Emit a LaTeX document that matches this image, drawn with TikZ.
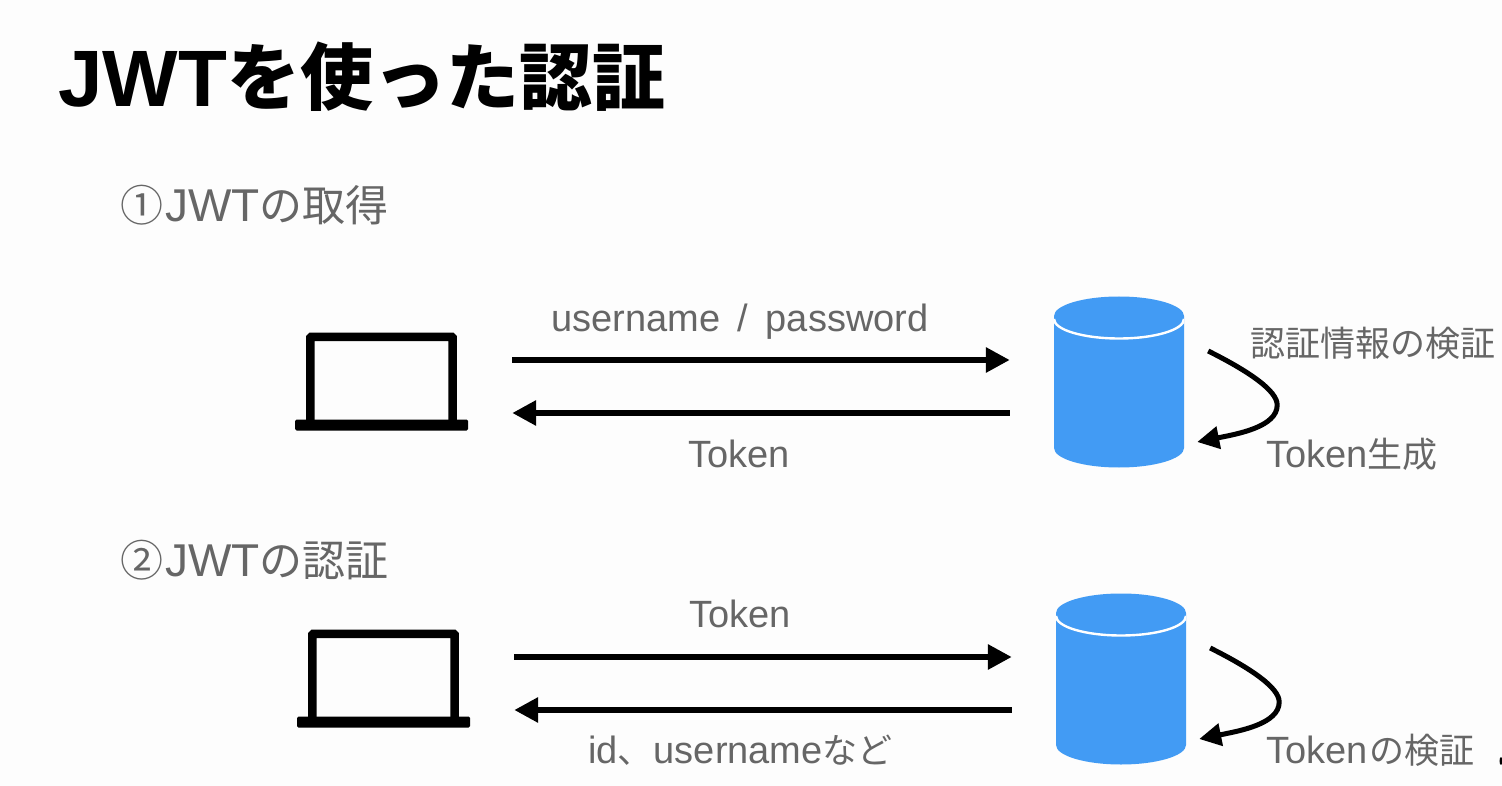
\documentclass[tikz,border=0pt]{standalone}
\usepackage{fontspec}
\usetikzlibrary{arrows.meta}
\setmainfont{Liberation Sans}
\newfontfamily\cjk{Noto Sans CJK JP}
\definecolor{txtgrey}{HTML}{666666}
\definecolor{dbblue}{HTML}{429BF4}
\definecolor{bgwhite}{HTML}{FDFDFD}
\newcommand{\fsz}[1]{\fontsize{#1pt}{#1pt}\selectfont}
\newcommand{\jl}[1]{{\cjk\fsz{35}#1}}
\newcommand{\jh}[1]{{\cjk\fsz{43}#1}}
\newcommand{\jt}[1]{{\cjk\fsz{73}\raisebox{2pt}{#1}}}
\tikzset{
  x=1pt,y=-1pt,
  label text/.style={anchor=base west,inner sep=0pt,text=txtgrey,font=\fsz{38}},
  head text/.style={anchor=base west,inner sep=0pt,text=txtgrey,font=\fsz{46}},
  title text/.style={anchor=base west,inner sep=0pt,text=black,font=\fsz{80}\bfseries},
  laptop box/.style={inner sep=0pt,minimum width=173pt,minimum height=98pt,
    path picture={
      \fill[black,rounded corners=1.5pt] ([shift={(0,-11)}]path picture bounding box.south west) rectangle (path picture bounding box.south east);
      \draw[black,line width=8.5pt,rounded corners=1pt] (-71.2,45) -- (-71.2,-44.7) -- (71.2,-44.7) -- (71.2,45);
    }},
  db box/.style={inner sep=0pt,minimum width=130pt,minimum height=171pt,
    path picture={
      \fill[dbblue] (-65,-66) -- (-65,66) arc[start angle=180,end angle=0,x radius=65,y radius=19.5] -- (65,-66) arc[start angle=0,end angle=-180,x radius=65,y radius=19.5] -- cycle;
      \draw[white,line width=2.4pt] (-65,-63) arc[start angle=180,end angle=0,x radius=65,y radius=19.5];
    }},
  flow/.style={line width=6pt,-{Triangle[length=24pt,width=24pt]}},
  self/.style={line width=5pt,-{Triangle[length=22pt,width=22pt]}}
}
\begin{document}
\begin{tikzpicture}
\useasboundingbox (0,0) rectangle (1502,786);
\fill[bgwhite] (0,0) rectangle (1502,786);

\node[title text] (title) at (58,107) {JWT\jt{を使った認証}};
\node[head text] (h1) at (120,222) {\jh{①}\hspace{2pt}JWT\jh{の取得}};
\node[head text] (h2) at (120,576) {\jh{②}\hspace{2pt}JWT\jh{の認証}};

\node[laptop box] (pc1) at (381.5,381.5) {};
\node[laptop box] (pc2) at (383.5,678.5) {};
\node[db box] (db1) at (1119,382) {};
\node[db box] (db2) at (1121,679) {};

\draw[flow] ([shift={(44,-21.5)}]pc1.east) -- ([shift={(-44,-22)}]db1.west);
\draw[flow] ([shift={(-44,31)}]db1.west) -- ([shift={(44,31.5)}]pc1.east);
\draw[flow] ([shift={(44,-21.5)}]pc2.east) -- ([shift={(-44,-22)}]db2.west);
\draw[flow] ([shift={(-44,31)}]db2.west) -- ([shift={(44,31.5)}]pc2.east);

\draw[self] ([shift={(24,-31)}]db1.east) .. controls +(42,21) and +(0,-14) .. ([shift={(93,23)}]db1.east)
  .. controls +(0,22) and +(40,-8) .. ([shift={(13,60)}]db1.east);
\draw[self] ([shift={(24,-31)}]db2.east) .. controls +(42,21) and +(0,-14) .. ([shift={(93,23)}]db2.east)
  .. controls +(0,22) and +(40,-8) .. ([shift={(13,60)}]db2.east);

\node[label text] (l1) at (551,331) {username\hspace{7pt} /\hspace{7pt} password};
\node[label text] (l2) at (688,467) {Token};
\node[label text] (l3) at (689,627) {Token};
\node[label text] (l4) at (588,763) {id\jl{、}\hspace{1pt}username\jl{など}};
\node[label text] (l5) at (1250,356) {\jl{認証情報の検証}};
\node[label text] (l6) at (1266,467) {Token\jl{生成}};
\node[label text] (l7) at (1266,763) {Token\hspace{2pt}\jl{の検証}};
\fill[black] (1501,761) ellipse[x radius=1.5,y radius=4];
\end{tikzpicture}
\end{document}
